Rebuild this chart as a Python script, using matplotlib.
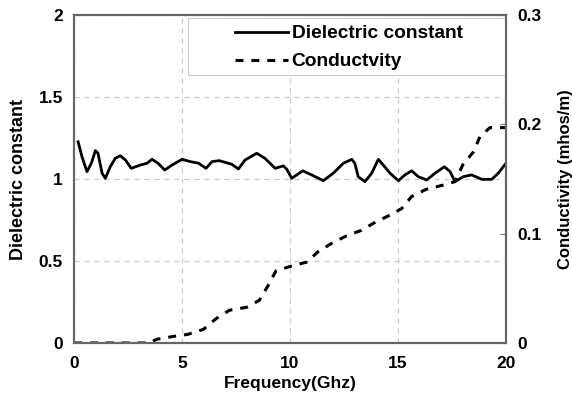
import matplotlib.pyplot as plt
from matplotlib.patches import Rectangle

plt.rcParams['font.family'] = ['Liberation Sans', 'DejaVu Sans']
plt.rcParams['font.weight'] = 'bold'

# dielectric constant vs frequency (GHz)
freq_eps = [0.19, 0.37, 0.60, 0.80, 0.99, 1.11, 1.30, 1.45, 1.68, 1.91, 2.14, 2.38,
            2.65, 3.07, 3.38, 3.61, 3.89, 4.20, 4.54, 5.0, 5.39, 5.77, 6.11, 6.39,
            6.72, 7.30, 7.61, 7.92, 8.46, 8.84, 9.31, 9.69, 9.85, 10.08, 10.59,
            11.0, 11.54, 12.0, 12.47, 12.86, 13.0, 13.16, 13.47, 13.78, 14.09,
            14.32, 14.63, 15.02, 15.32, 15.63, 15.94, 16.33, 16.71, 17.15, 17.41,
            17.64, 18.02, 18.41, 18.88, 19.34, 19.64, 20.0]
eps = [1.227, 1.136, 1.045, 1.095, 1.173, 1.157, 1.035, 1.004, 1.075, 1.126, 1.142,
       1.116, 1.065, 1.085, 1.096, 1.12, 1.096, 1.055, 1.085, 1.12, 1.106, 1.096,
       1.065, 1.106, 1.112, 1.09, 1.061, 1.116, 1.157, 1.126, 1.065, 1.08, 1.06,
       1.004, 1.05, 1.025, 0.99, 1.035, 1.096, 1.12, 1.096, 1.014, 0.984, 1.035,
       1.12, 1.085, 1.035, 0.99, 1.025, 1.05, 1.014, 0.994, 1.035, 1.075, 1.045,
       0.984, 1.014, 1.025, 0.998, 0.998, 1.035, 1.096]

# conductivity (mhos/m) vs frequency (GHz)
freq_sig = [0.0, 1.0, 2.0, 3.0, 3.5, 3.83, 4.6, 5.29, 5.99, 6.6, 7.2, 8.0, 8.58, 9.0,
            9.35, 10.0, 10.77, 11.3, 12.0, 12.62, 13.3, 13.86, 14.63, 15.17, 15.63,
            16.3, 17.1, 17.64, 18.0, 18.5, 18.8, 19.26, 19.95]
sigma = [0.0, 0.0, 0.0, 0.0, 0.0, 0.0034, 0.006, 0.008, 0.0125, 0.0226, 0.030, 0.0327,
         0.039, 0.053, 0.066, 0.070, 0.074, 0.0835, 0.092, 0.098, 0.103, 0.1095, 0.117,
         0.123, 0.134, 0.1405, 0.1445, 0.1476, 0.163, 0.175, 0.189, 0.197, 0.197]

fig = plt.figure(figsize=(5.72, 3.99), dpi=100)
ax = fig.add_axes([74 / 572, 1 - 343 / 399, 432 / 572, 328 / 399])
ax2 = ax.twinx()

l1, = ax.plot(freq_eps, eps, color='black', lw=2.0, solid_joinstyle='round',
              label='Dielectric constant')
l2, = ax2.plot(freq_sig, sigma, color='black', lw=2.2, ls=(0, (2.6, 2.6)),
               label='Conductvity')

ax.set_xlim(0, 20)
ax.set_ylim(0, 2)
ax2.set_ylim(0, 0.3)
ax.set_xticks([0, 5, 10, 15, 20])
ax.set_yticks([0, 0.5, 1, 1.5, 2])
ax.set_yticklabels(['0', '0.5', '1', '1.5', '2'])
ax2.set_yticks([0, 0.1, 0.2, 0.3])
ax2.set_yticklabels(['0', '0.1', '0.2', '0.3'])

ax.grid(True, color='#c8c8c8', ls=(0, (4, 4)), lw=0.9)
ax.tick_params(axis='x', length=0, labelsize=12.5, pad=9)
ax.tick_params(axis='y', length=0, labelsize=12.5, pad=8)
ax2.tick_params(axis='y', direction='in', length=4, color='#777777', labelsize=12.5, pad=8)

for a in (ax, ax2):
    for s in a.spines.values():
        s.set_color('#666666')
        s.set_linewidth(1.5)

ax.set_xlabel('Frequency(Ghz)', fontsize=12.5, fontweight='bold', labelpad=4)
ax.set_ylabel('Dielectric constant', fontsize=13, fontweight='bold', labelpad=8)
ax2.set_ylabel('Conductivity (mhos/m)', fontsize=12, fontweight='bold', labelpad=12)

# opaque legend box spanning to the right edge
x0, y0 = (188 - 74) / 432, (343 - 75) / 328
box = Rectangle((x0, y0), 1 - x0, (343 - 18) / 328 - y0, transform=ax.transAxes,
                facecolor='white', edgecolor='#cccccc', lw=0.8, zorder=4)
ax.add_patch(box)
leg = ax.legend(handles=[l1, l2], loc='upper left',
                bbox_to_anchor=((235 - 74) / 432, (343 - 25) / 328),
                fontsize=13.8, frameon=False, handlelength=2.75, borderpad=0,
                borderaxespad=0, handletextpad=0.2, labelspacing=0.55)
leg.set_zorder(5)
for t in leg.get_texts():
    t.set_fontweight('bold')

fig.savefig('out.png', dpi=100)
